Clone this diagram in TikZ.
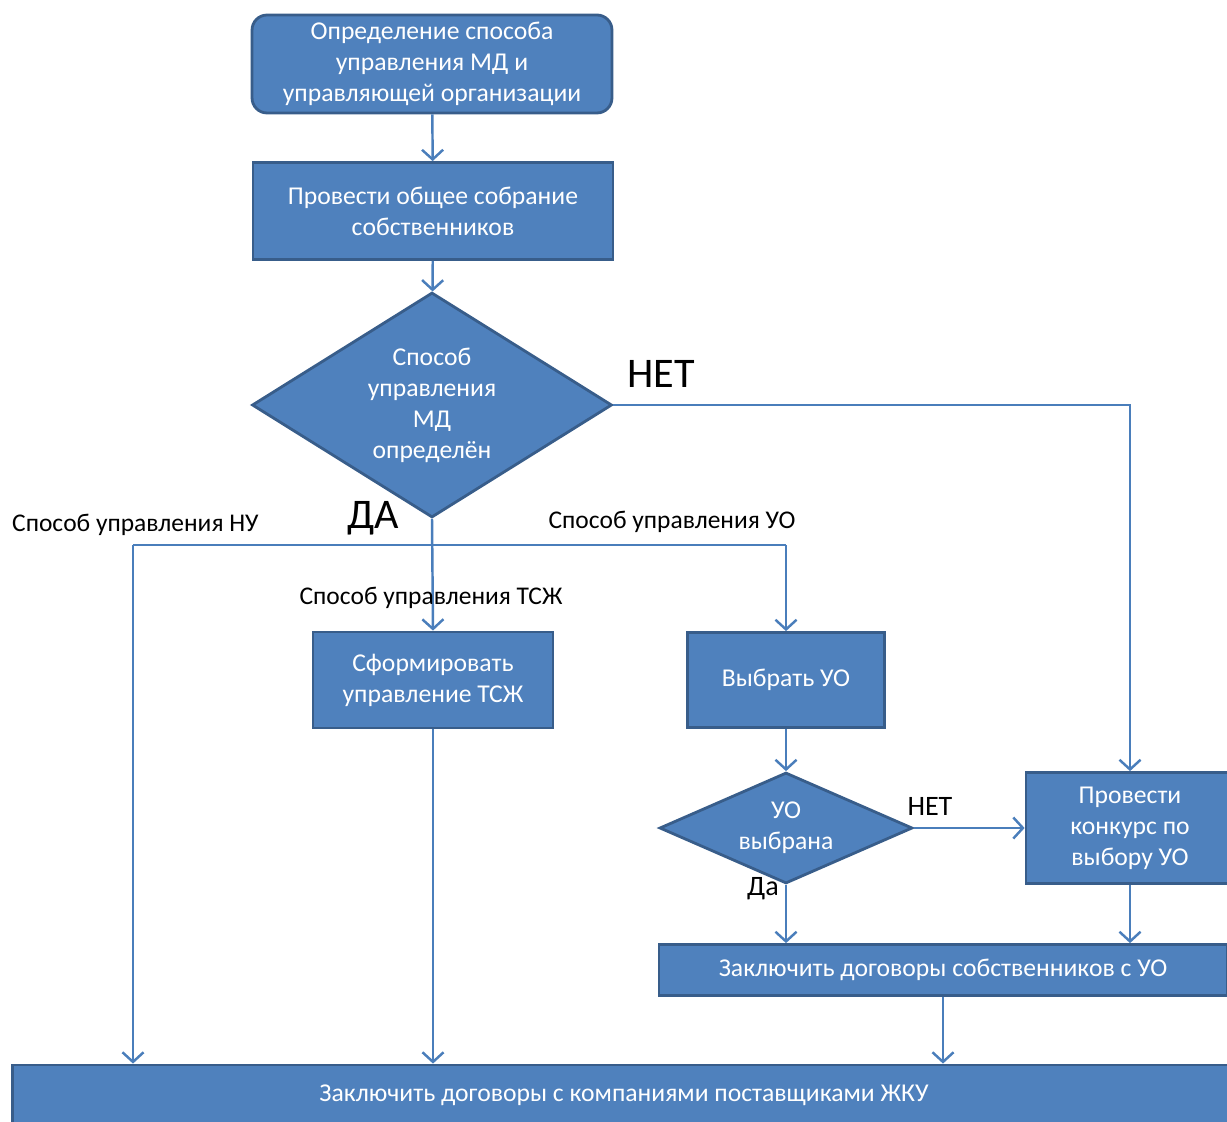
\documentclass[tikz,border=0pt]{standalone}
\usepackage{fontspec}
\setmainfont{Carlito}
\usetikzlibrary{shapes.geometric,arrows.meta,positioning}

\definecolor{boxfill}{HTML}{4F81BD}
\definecolor{boxline}{HTML}{385D8A}
\definecolor{arrline}{HTML}{4A7EBB}

\begin{document}
\begin{tikzpicture}[x=0.02cm, y=-0.02cm,
    blk/.style={draw=boxline, fill=boxfill, line width=1.6pt, text=white, align=center,
      font=\fontsize{14.6}{17.6}\selectfont, inner sep=2pt},
    dec/.style={blk, diamond, aspect=1.6, inner sep=0pt},
    arr/.style={draw=arrline, line width=1.4pt, -{Straight Barb[length=5.5pt,width=12pt]}},
    lnk/.style={draw=arrline, line width=1.4pt},
    lbl/.style={font=\fontsize{14.5}{17}\selectfont},
    big/.style={font=\fontsize{24}{28}\selectfont}
  ]
\useasboundingbox (0,0) rectangle (1227,1122);

% Main column
\node[blk, rounded corners=0.3cm, minimum width=7.2cm, minimum height=1.96cm] (start) at (432,64)
  {Определение способа\\управления МД и\\управляющей организации};
\node[blk, minimum width=7.2cm, minimum height=1.94cm] (meet) at (433,211)
  {Провести общее собрание\\собственников};
\node[dec, minimum width=7.2cm, minimum height=4.5cm] (way) at (432,405)
  {Способ\\управления\\МД\\определён};

% Branches
\node[blk, minimum width=4.8cm, minimum height=1.92cm] (tsj) at (433,680)
  {Сформировать\\управление ТСЖ};
\node[blk, minimum width=3.94cm, minimum height=1.9cm] (pick) at (786,680) {Выбрать УО};
\node[dec, minimum width=5.06cm, minimum height=2.06cm] (picked) at (786,828) {УО\\выбрана};
\node[blk, minimum width=4.16cm, minimum height=2.22cm] (contest) at (1130,828)
  {Провести\\конкурс по\\выбору УО};
\node[blk, minimum width=11.36cm, minimum height=1.02cm] (dealuo) at (943,970)
  {Заключить договоры собственников с УО};
\node[blk, minimum width=24.48cm, minimum height=1.2cm] (final) at (624,1095)
  {Заключить договоры с компаниями поставщиками ЖКУ};

% Split points
\coordinate (split) at (432,545);
\coordinate (nu) at (133,545);
\coordinate (uo) at (786,545);

% Connectors
\draw[arr] (start) -- (meet);
\draw[arr] (meet) -- (way);
\draw[arr] (way.south) -- (tsj.north);
\draw[arr] (way.east) -| (contest.north);
\draw[lnk] (nu) -- (uo);
\draw[arr] (nu) -- (nu |- final.north);
\draw[arr] (uo) -- (pick.north);
\draw[arr] (pick) -- (picked);
\draw[arr] (picked.east) -- (contest.west);
\draw[arr] (picked.south) -- (picked.south |- dealuo.north);
\draw[arr] (contest.south) -- (contest.south |- dealuo.north);
\draw[arr] (dealuo.south) -- (dealuo.south |- final.north);
\draw[arr] (tsj.south) -- (tsj.south |- final.north);

% Labels
\node[big] (no1) at (661,374) {НЕТ};
\node[big] (yes1) at (373,518) {ДА};
\node[lbl, anchor=west] (lnu) at (6,525) {Способ управления НУ};
\node[lbl] (luo) at (672,522) {Способ управления УО};
\node[lbl] (ltsj) at (431,598) {Способ управления ТСЖ};
\node[font=\fontsize{16}{18}\selectfont] (no2) at (930,806) {НЕТ};
\node[font=\fontsize{16}{18}\selectfont] (yes2) at (763,889) {Да};

\end{tikzpicture}
\end{document}
